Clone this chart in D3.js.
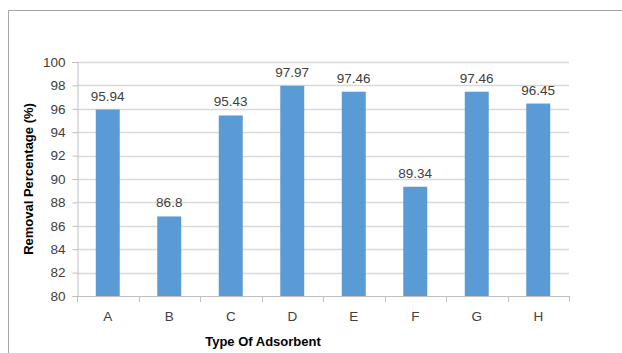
<!DOCTYPE html>
<html><head><meta charset="utf-8">
<script src="https://cdn.jsdelivr.net/npm/d3@7"></script>
<style>body{margin:0;background:#fff}svg{display:block}</style>
</head><body><svg id="c" width="622" height="353"></svg>
<script>
const categories = ["A","B","C","D","E","F","G","H"];
const values = [95.94, 86.8, 95.43, 97.97, 97.46, 89.34, 97.46, 96.45];
const labels = ["95.94","86.8","95.43","97.97","97.46","89.34","97.46","96.45"];
const yTicks = [80,82,84,86,88,90,92,94,96,98,100];

(function(){
const svg = d3.select("#c");
const font = "'Liberation Sans', Arial, sans-serif";
svg.append("path").attr("d","M8.5,353 L8.5,10.5 L622,10.5").attr("fill","none").attr("stroke","#a6a6a6").attr("stroke-width",1);

const pl=77, pr=569, pt=62, pb=296;
const x = d3.scaleBand().domain(categories).range([pl,pr]).paddingInner(0.61).paddingOuter(0.305);
const xb = d3.scaleBand().domain(categories).range([pl,pr]);
const y = d3.scaleLinear().domain([80,100]).range([pb,pt]);

svg.append("g").selectAll("line").data(yTicks.filter(d=>d>80)).join("line")
  .attr("x1",pl).attr("x2",pr).attr("y1",d=>Math.round(y(d))+0.5).attr("y2",d=>Math.round(y(d))+0.5)
  .attr("stroke","#d9d9d9").attr("stroke-width",1.3);

svg.append("g").selectAll("rect").data(values).join("rect")
  .attr("x",(d,i)=>x(categories[i])).attr("width",x.bandwidth())
  .attr("y",d=>y(d)).attr("height",d=>pb-y(d)).attr("fill","#5b9bd5");

svg.append("g").selectAll("text").data(values).join("text")
  .attr("x",(d,i)=>x(categories[i])+x.bandwidth()/2).attr("y",d=>y(d)-9)
  .attr("text-anchor","middle").attr("font-family",font).attr("font-size",13.5).attr("fill","#404040")
  .text((d,i)=>labels[i]);

const ya = svg.append("g").attr("transform",`translate(${pl+0.5},0)`)
  .call(d3.axisLeft(y).tickValues(yTicks).tickSize(5).tickPadding(7).tickFormat(d3.format("d")));
ya.select(".domain").attr("stroke","#bfbfbf");
ya.selectAll(".tick line").attr("stroke","#bfbfbf");
ya.selectAll("text").attr("font-family",font).attr("font-size",13.5).attr("fill","#404040");

const xa = svg.append("g").attr("transform",`translate(0,${pb+0.5})`)
  .call(d3.axisBottom(x).tickSize(0).tickPadding(15));
xa.select(".domain").attr("stroke","#bfbfbf").attr("d",`M${pl},0H${pr}`);
xa.selectAll("text").attr("font-family",font).attr("font-size",13.5).attr("fill","#404040");
svg.append("g").selectAll("line").data(categories.concat(["end"])).join("line")
  .attr("x1",(d,i)=>Math.round(pl+i*xb.step())+0.5).attr("x2",(d,i)=>Math.round(pl+i*xb.step())+0.5)
  .attr("y1",pb).attr("y2",pb+6).attr("stroke","#bfbfbf");

svg.append("text").attr("x",263).attr("y",346).attr("text-anchor","middle")
  .attr("font-family",font).attr("font-weight","bold").attr("font-size",13).attr("fill","#000")
  .text("Type Of Adsorbent");
svg.append("text").attr("transform",`translate(33,${(pt+pb)/2}) rotate(-90)`).attr("text-anchor","middle")
  .attr("font-family",font).attr("font-weight","bold").attr("font-size",13).attr("fill","#000")
  .text("Removal Percentage (%)");
})();
</script></body></html>
